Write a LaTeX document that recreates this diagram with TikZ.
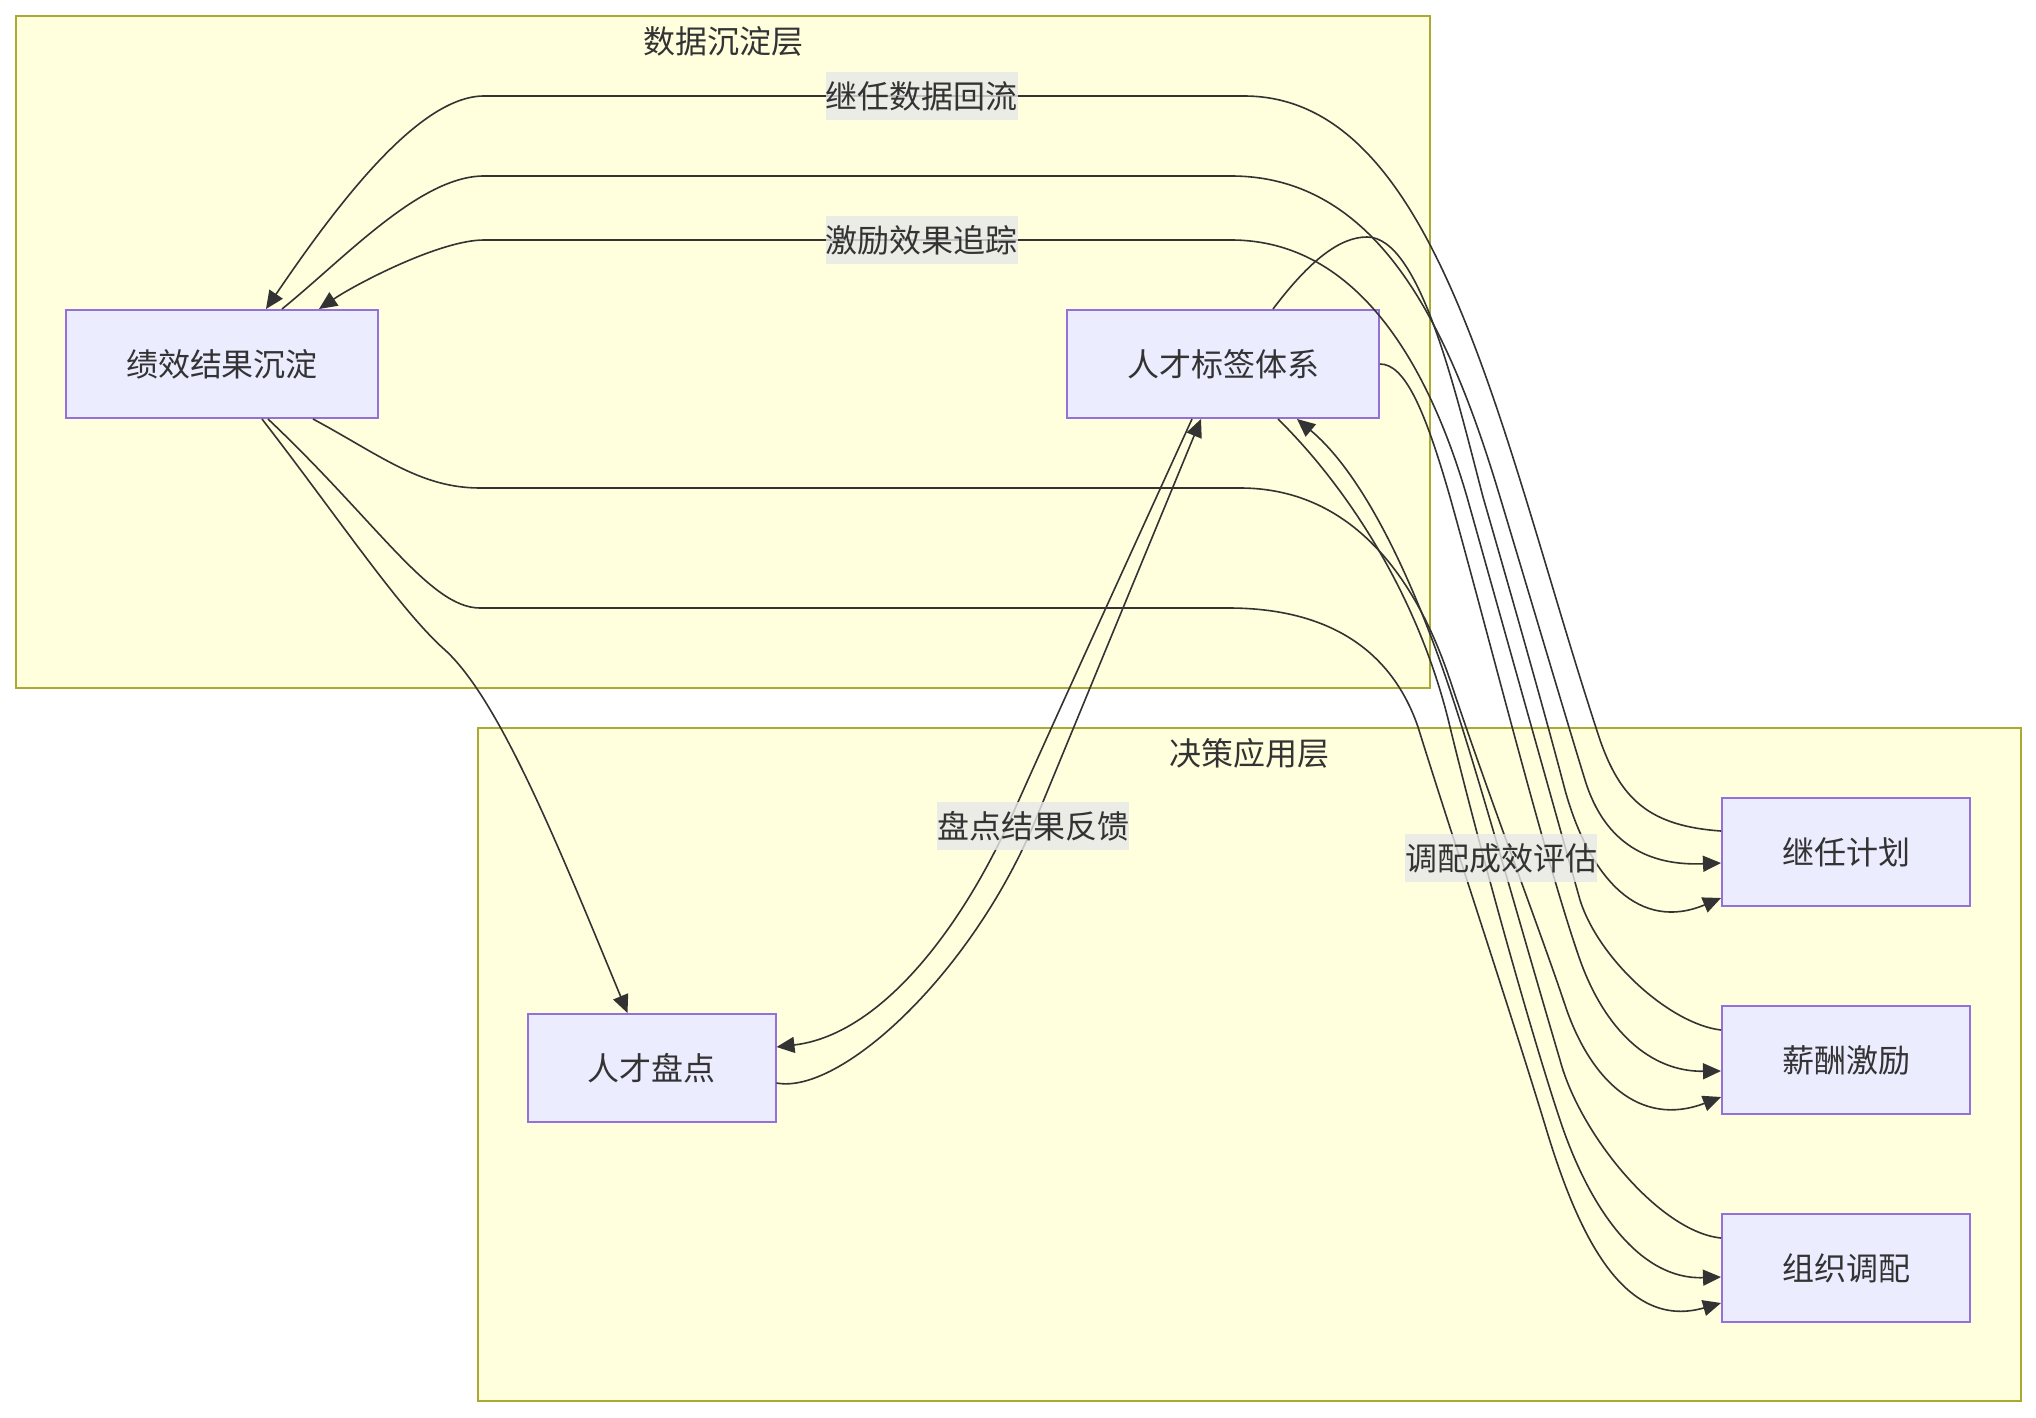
\documentclass[tikz,border=0pt]{standalone}
\usepackage{fontspec}
\usepackage{xcolor}
\usepackage{tikz}
\usetikzlibrary{arrows.meta}
\newfontfamily\cjk{Noto Sans CJK SC}
\definecolor{inkx}{HTML}{333333}
\definecolor{purplex}{HTML}{9370DB}
\definecolor{nodebg}{HTML}{ECECFF}
\definecolor{olivex}{HTML}{AAAA33}
\definecolor{softbg}{HTML}{FFFFDE}
\definecolor{greybg}{HTML}{E8E8E8}
\tikzset{
  ar/.style={-{Triangle[length=9pt,width=8pt]},line width=0.8pt,inkx},
  box/.style={draw=purplex,line width=1pt,fill=nodebg,inner sep=0pt,minimum height=54pt,minimum width=124pt,text=inkx,font=\cjk\fontsize{16pt}{19pt}\selectfont},
  wide/.style={box,minimum width=156pt},
  lbl/.style={fill=greybg,fill opacity=0.8,text opacity=1,text=inkx,inner sep=0pt,minimum height=24pt,font=\cjk\fontsize{16pt}{19pt}\selectfont},
  grp/.style={draw=olivex,line width=1pt,fill=softbg},
  ttl/.style={text=inkx,font=\cjk\fontsize{16pt}{19pt}\selectfont}
}
\begin{document}
\begin{tikzpicture}[x=0.5pt,y=-0.5pt]
\useasboundingbox (0,0) rectangle (2036,1418);
% the two layers
\draw[grp] (15.6,15.6) rectangle (1430,688);
\draw[grp] (478,727.5) rectangle (2021,1401);
\node[ttl] (lay1) at (723,41) {数据沉淀层};
\node[ttl] (lay2) at (1249,753) {决策应用层};
% nodes
\node[wide] (perf) at (222,364) {绩效结果沉淀};
\node[wide] (tags) at (1223,364) {人才标签体系};
\node[box] (review) at (651.5,1068) {人才盘点};
\node[box] (succ) at (1846,852) {继任计划};
\node[box] (pay) at (1846,1060) {薪酬激励};
\node[box] (org) at (1846,1268) {组织调配};
% out of perf
\draw[ar] ([xshift=20pt]perf.south) .. controls (340,520) and (400,610) .. (445,650)
  .. controls (500,700) and (560,850) .. ([xshift=-12pt]review.north);
\draw[ar] ([xshift=30pt]perf.north) .. controls (345,258) and (420,176) .. (484,176) -- (1231,176)
  .. controls (1380,176) and (1450,330) .. (1500,497) .. controls (1540,630) and (1565,715) .. (1585,780)
  .. controls (1605,845) and (1650,866) .. ([yshift=-5.5pt]succ.west);
\draw[ar] ([xshift=45.5pt]perf.south) .. controls (380,455) and (420,488) .. (480,488) -- (1240,488)
  .. controls (1340,488) and (1410,560) .. (1450,680) .. controls (1490,800) and (1540,930) .. (1565,1005)
  .. controls (1590,1080) and (1640,1128) .. ([yshift=-18.5pt]pay.west);
\draw[ar] ([xshift=23pt]perf.south) .. controls (378,523) and (430,608) .. (480,608) -- (1228,608)
  .. controls (1340,608) and (1395,660) .. (1418,727) .. controls (1450,830) and (1510,1010) .. (1545,1125)
  .. controls (1575,1225) and (1620,1332) .. ([yshift=-17.5pt]org.west);
% out of tags
\draw[ar] ([xshift=25pt]tags.north) .. controls (1310,260) and (1340,237) .. (1367,237)
  .. controls (1420,237) and (1455,390) .. (1483,497) .. controls (1520,625) and (1548,725) .. (1565,790)
  .. controls (1590,880) and (1640,932) .. ([yshift=-23pt]succ.west);
\draw[ar] (tags.east) .. controls (1405,364) and (1425,410) .. (1450,497)
  .. controls (1490,640) and (1545,860) .. (1580,960) .. controls (1605,1030) and (1650,1072) .. ([yshift=-5.5pt]pay.west);
\draw[ar] ([xshift=27.5pt]tags.south) .. controls (1350,490) and (1420,600) .. (1450,727)
  .. controls (1480,850) and (1530,1030) .. (1560,1120) .. controls (1590,1210) and (1640,1280) .. ([yshift=-4.5pt]org.west);
\draw[ar] ([xshift=-15.5pt]tags.south) .. controls (1120,577) and (1050,730) .. (1010,820)
  .. controls (960,930) and (880,1035) .. ([yshift=10.5pt]review.east);
% feedback edges with labels
\draw[ar] ([yshift=-7.5pt]review.east) .. controls (840,1095) and (969,976) .. (1033,826)
  node[lbl] {盘点结果反馈} -- ([xshift=-11pt]tags.south);
\draw[ar] ([yshift=10.5pt]succ.west) .. controls (1650,826) and (1621,800) .. (1600,740)
  .. controls (1501,440) and (1440,96) .. (1244,96) -- node[lbl,pos=0.424] {继任数据回流} (484,96)
  .. controls (420,96) and (340,200) .. ([xshift=22pt]perf.north);
\draw[ar] ([yshift=15pt]pay.west) .. controls (1670,1024) and (1599,960) .. (1580,900) -- (1467,497)
  .. controls (1430,370) and (1360,240) .. (1231,240) -- node[lbl,pos=0.414] {激励效果追踪} (484,240)
  .. controls (440,240) and (356,284) .. ([xshift=48.5pt]perf.north);
\draw[ar] ([yshift=15pt]org.west) .. controls (1660,1232) and (1580,1135) .. (1560,1060)
  .. controls (1520,925) and (1480,780) .. (1450,690) node[lbl,pos=0.5] {调配成效评估}
  .. controls (1420,600) and (1370,480) .. ([xshift=37pt]tags.south);
\end{tikzpicture}
\end{document}
